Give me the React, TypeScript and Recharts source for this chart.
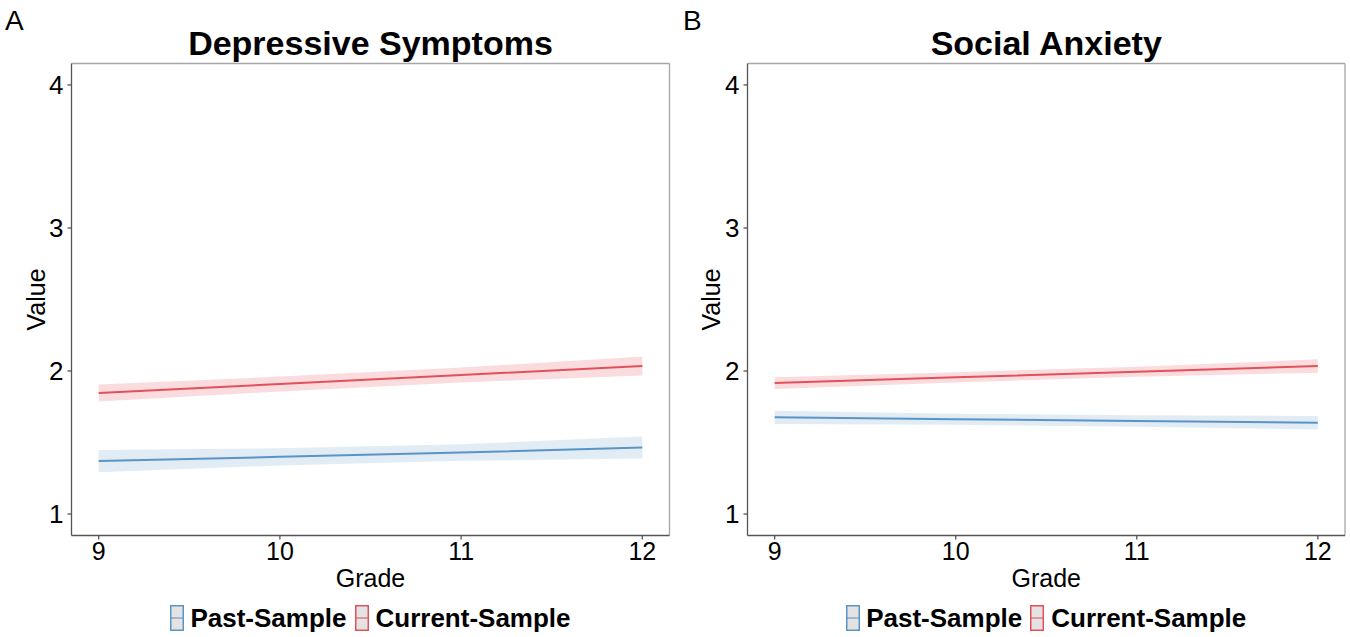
import React from "react";
import {
  ComposedChart,
  Line,
  Area,
  XAxis,
  YAxis,
} from "recharts";

// ---- data ----
const grades = [9, 10, 11, 12];
const xTicks = [9, 10, 11, 12];
const yTicks = [1, 2, 3, 4];
const seriesNames = ["Past-Sample", "Current-Sample"];

// Panel A: Depressive Symptoms
const depPastFit = [1.37, 1.40, 1.43, 1.465];
const depPastLow = [1.293, 1.34, 1.372, 1.388];
const depPastHigh = [1.447, 1.46, 1.488, 1.542];
const depCurrFit = [1.846, 1.909, 1.972, 2.035];
const depCurrLow = [1.786, 1.857, 1.92, 1.969];
const depCurrHigh = [1.906, 1.961, 2.024, 2.101];

// Panel B: Social Anxiety
const socPastFit = [1.676, 1.663, 1.651, 1.638];
const socPastLow = [1.629, 1.624, 1.611, 1.591];
const socPastHigh = [1.723, 1.702, 1.691, 1.685];
const socCurrFit = [1.916, 1.956, 1.995, 2.035];
const socCurrLow = [1.875, 1.92, 1.96, 1.988];
const socCurrHigh = [1.957, 1.992, 2.03, 2.082];

const BLUE = "#5b95c6";
const RED = "#e4505a";
const FONT = "'Liberation Sans', Arial, Helvetica, sans-serif";

function buildRows(
  pf: number[], pl: number[], ph: number[],
  cf: number[], cl: number[], ch: number[]
) {
  return grades.map((g, i) => ({
    grade: g,
    past: pf[i],
    pastBand: [pl[i], ph[i]],
    current: cf[i],
    currentBand: [cl[i], ch[i]],
  }));
}

const depRows = buildRows(depPastFit, depPastLow, depPastHigh, depCurrFit, depCurrLow, depCurrHigh);
const socRows = buildRows(socPastFit, socPastLow, socPastHigh, socCurrFit, socCurrLow, socCurrHigh);

const W = 675;
const H = 637;
const TOP = 63.5;
const BOTTOM = 101.5;
const XAX_H = 30;
const YAX_W = 60;

function LegendKey({ color }: { color: string }) {
  return (
    <svg width={14} height={26} style={{ display: "block" }}>
      <rect x={0.75} y={0.75} width={12.5} height={24.5} fill="#e3e3e3" stroke={color} strokeWidth={1.5} />
      <line x1={0.75} x2={13.25} y1={13} y2={13} stroke={color} strokeWidth={1.5} opacity={0.7} />
    </svg>
  );
}

function Panel({
  rows, letter, title, left, right, letterX,
}: {
  rows: any[]; letter: string; title: string; left: number; right: number; letterX: number;
}) {
  const plotW = W - left - right;
  const cx = left + plotW / 2;
  const cy = TOP + (H - TOP - BOTTOM) / 2;
  return (
    <div style={{ position: "relative", width: W, height: H }}>
      <ComposedChart
        width={W}
        height={H}
        data={rows}
        margin={{ top: TOP - 1, right: right - 1, bottom: BOTTOM - XAX_H, left: left - YAX_W }}
      >
        <XAxis
          xAxisId="top"
          orientation="top"
          dataKey="grade"
          type="number"
          domain={[8.85, 12.15]}
          allowDataOverflow
          height={1}
          tick={false}
          tickLine={false}
          axisLine={{ stroke: "#a6a6a6", strokeWidth: 1.3 }}
        />
        <YAxis
          yAxisId="right"
          orientation="right"
          type="number"
          domain={[0.85, 4.15]}
          allowDataOverflow
          width={1}
          tick={false}
          tickLine={false}
          axisLine={{ stroke: "#a6a6a6", strokeWidth: 1.3 }}
        />
        <XAxis
          dataKey="grade"
          type="number"
          domain={[8.85, 12.15]}
          ticks={xTicks}
          interval={0}
          allowDataOverflow
          height={XAX_H}
          tickSize={4}
          tickMargin={3}
          axisLine={{ stroke: "#555555", strokeWidth: 1.3 }}
          tickLine={{ stroke: "#555555", strokeWidth: 1.3 }}
          tick={{ fill: "#000", fontSize: 25, fontFamily: FONT }}
        />
        <YAxis
          type="number"
          domain={[0.85, 4.15]}
          ticks={yTicks}
          interval={0}
          allowDataOverflow
          width={YAX_W}
          tickSize={4}
          tickMargin={4}
          axisLine={{ stroke: "#555555", strokeWidth: 1.3 }}
          tickLine={{ stroke: "#555555", strokeWidth: 1.3 }}
          tick={{ fill: "#000", fontSize: 26, fontFamily: FONT }}
        />
        <Area
          dataKey="pastBand"
          type="linear"
          stroke="none"
          fill={BLUE}
          fillOpacity={0.18}
          isAnimationActive={false}
          name={seriesNames[0]}
        />
        <Area
          dataKey="currentBand"
          type="linear"
          stroke="none"
          fill={RED}
          fillOpacity={0.2}
          isAnimationActive={false}
          name={seriesNames[1]}
        />
        <Line
          dataKey="past"
          type="linear"
          stroke={BLUE}
          strokeWidth={2}
          dot={false}
          activeDot={false}
          isAnimationActive={false}
          name={seriesNames[0]}
        />
        <Line
          dataKey="current"
          type="linear"
          stroke={RED}
          strokeWidth={2}
          dot={false}
          activeDot={false}
          isAnimationActive={false}
          name={seriesNames[1]}
        />
      </ComposedChart>
      <svg
        width={W}
        height={H}
        style={{ position: "absolute", left: 0, top: 0, pointerEvents: "none" }}
      >
        <text x={letterX} y={30} fontSize={28} fontFamily={FONT} fill="#000">
          {letter}
        </text>
        <text x={cx} y={55} fontSize={34} fontWeight="bold" fontFamily={FONT} fill="#000" textAnchor="middle">
          {title}
        </text>
        <text x={cx} y={587} fontSize={25} fontFamily={FONT} fill="#000" textAnchor="middle">
          Grade
        </text>
        <text
          x={0}
          y={0}
          fontSize={25}
          fontFamily={FONT}
          fill="#000"
          textAnchor="middle"
          transform={`translate(45, ${cy}) rotate(-90)`}
        >
          Value
        </text>
      </svg>
      <div
        style={{
          position: "absolute",
          left: left,
          width: plotW,
          top: 605,
          display: "flex",
          justifyContent: "center",
          alignItems: "center",
          fontFamily: FONT,
          fontWeight: "bold",
          fontSize: 26,
          lineHeight: 1,
          color: "#000",
        }}
      >
        <LegendKey color={BLUE} />
        <span style={{ marginLeft: 6, marginRight: 8 }}>{seriesNames[0]}</span>
        <LegendKey color={RED} />
        <span style={{ marginLeft: 7 }}>{seriesNames[1]}</span>
      </div>
    </div>
  );
}

export default function App() {
  return (
    <div style={{ width: 1350, height: 637, display: "flex", background: "#fff" }}>
      <style>{`body{margin:0;background:#fff}`}</style>
      <Panel rows={depRows} letter="A" title="Depressive Symptoms" left={71.5} right={5.5} letterX={5} />
      <Panel rows={socRows} letter="B" title="Social Anxiety" left={72.5} right={5} letterX={8} />
    </div>
  );
}
